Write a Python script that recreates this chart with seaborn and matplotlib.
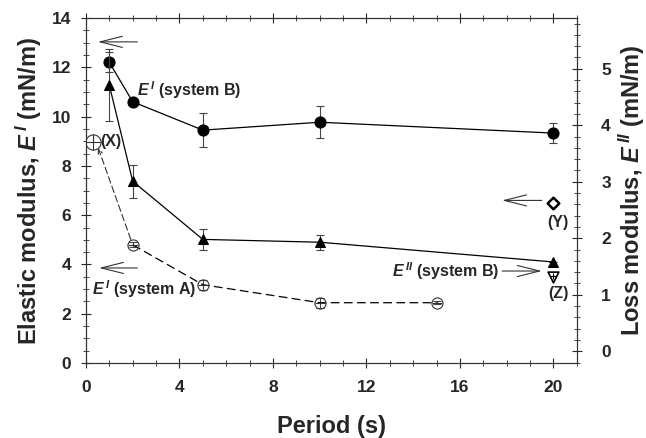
import matplotlib
matplotlib.use("Agg")
import matplotlib.pyplot as plt
import seaborn as sns
import numpy as np
import pandas as pd
from matplotlib.ticker import MultipleLocator

# ---------------- data ----------------
period_B = [1, 2, 5, 10, 20]
Ep_B = [12.2, 10.6, 9.45, 9.77, 9.33]
Ep_B_err = [0.4, 0.15, 0.68, 0.65, 0.4]

period_A = [2, 5, 10, 15]
Ep_A = [4.8, 3.18, 2.45, 2.45]
Ep_A_err = [0.1, 0.2, 0.2, 0.05]

Epp_B = [4.71, 3.01, 1.98, 1.93, 1.58]
Epp_B_err = [0.64, 0.29, 0.18, 0.13, 0.0]

point_X = (0.3, 8.97)      # left axis
point_Y = (20, 2.62)       # right axis
point_Z = (20, 1.31)       # right axis

x_ticks = [0, 4, 8, 12, 16, 20]
yl_ticks = [0, 2, 4, 6, 8, 10, 12, 14]
yr_ticks = [0, 1, 2, 3, 4, 5]

# ---------------- style ----------------
sns.set_style("ticks")
plt.rcParams['font.family'] = ['Liberation Sans', 'DejaVu Sans']
plt.rcParams['font.weight'] = 'bold'
plt.rcParams['mathtext.fontset'] = 'custom'
plt.rcParams['mathtext.it'] = 'Liberation Sans:italic:bold'
plt.rcParams['mathtext.rm'] = 'Liberation Sans:bold'
plt.rcParams['mathtext.bf'] = 'Liberation Sans:bold'

fig = plt.figure(figsize=(6.46, 4.38), dpi=100)
ax = fig.add_axes([0.133, 0.171, 0.760, 0.788])
ax2 = ax.twinx()

lw = 0.9
col = 'black'
ann_fs = 11.5

dfB = pd.DataFrame({'x': period_B, 'y': Ep_B})
dfA = pd.DataFrame({'x': period_A, 'y': Ep_A})
dfBB = pd.DataFrame({'x': period_B, 'y': Epp_B})

# E' system B
ax.errorbar(period_B, Ep_B, yerr=Ep_B_err, fmt='none', ecolor='#444444', elinewidth=0.8, capsize=3, capthick=0.8, zorder=2)
sns.lineplot(data=dfB, x='x', y='y', ax=ax, color=col, lw=lw, marker='o', markersize=8,
             markerfacecolor='black', markeredgecolor='black', estimator=None, sort=False, zorder=3)

# E' system A (dashed, crossed open circles)
ax.errorbar(period_A, Ep_A, yerr=Ep_A_err, fmt='none', ecolor='#444444', elinewidth=0.8, capsize=3, capthick=0.8, zorder=2)
sns.lineplot(data=dfA, x='x', y='y', ax=ax, color=col, lw=lw, marker='o', markersize=8,
             markerfacecolor='none', markeredgecolor='#333333', markeredgewidth=0.8,
             estimator=None, sort=False, zorder=3)
ax.lines[-1].set_dashes([7, 3.5])
sns.scatterplot(x=period_A, y=Ep_A, ax=ax, marker='_', s=55, color='#333333', linewidth=0.8, zorder=4)

# point X
sns.scatterplot(x=[point_X[0]], y=[point_X[1]], ax=ax, marker='o', s=120, facecolor='white',
                edgecolor='#333333', linewidth=0.8, zorder=4)
sns.scatterplot(x=[point_X[0]], y=[point_X[1]], ax=ax, marker='+', s=120, color='#333333', linewidth=0.8, zorder=5)
ax.text(point_X[0] + 0.3, point_X[1], "(X)", fontsize=ann_fs, fontweight='bold', va='center', ha='left')
ax.annotate("", xy=(0.51, 8.77), xytext=(period_A[0], Ep_A[0]),
            arrowprops=dict(arrowstyle='->,head_length=0.4,head_width=0.15', color='#333333', lw=0.8,
                            linestyle=(0, (6, 3)), shrinkA=4, shrinkB=0))

# E'' system B (right axis)
ax2.errorbar(period_B, Epp_B, yerr=Epp_B_err, fmt='none', ecolor='#444444', elinewidth=0.8, capsize=3, capthick=0.8, zorder=2)
sns.lineplot(data=dfBB, x='x', y='y', ax=ax2, color=col, lw=lw, marker='^', markersize=7,
             markerfacecolor='black', markeredgecolor='black', estimator=None, sort=False, zorder=3)

# points Y and Z
sns.scatterplot(x=[point_Y[0]], y=[point_Y[1]], ax=ax2, marker='D', s=35, facecolor='white',
                edgecolor='black', linewidth=1.8, zorder=4)
sns.scatterplot(x=[point_Z[0]], y=[point_Z[1]], ax=ax2, marker='v', s=60, facecolor='white',
                edgecolor='black', linewidth=1.2, zorder=4)
sns.scatterplot(x=[point_Z[0]], y=[point_Z[1] + 0.03], ax=ax2, marker='+', s=25, color='black', linewidth=0.8, zorder=5)
ax2.text(20.2, 2.28, "(Y)", fontsize=ann_fs, fontweight='bold', ha='center', va='center')
ax2.text(20.2, 1.03, "(Z)", fontsize=ann_fs, fontweight='bold', ha='center', va='center')

# arrows
arrow_kw = dict(arrowstyle='->,head_length=1.6,head_width=0.4', color='#333333', lw=0.8, shrinkA=0, shrinkB=0)
ax.annotate("", xy=(0.51, 13.03), xytext=(2.2, 13.03), arrowprops=arrow_kw)
ax.annotate("", xy=(0.56, 3.86), xytext=(2.2, 3.86), arrowprops=arrow_kw)
ax2.annotate("", xy=(17.8, 2.67), xytext=(19.5, 2.67), arrowprops=arrow_kw)
ax2.annotate("", xy=(19.5, 1.42), xytext=(17.8, 1.42), arrowprops=arrow_kw)

# text labels
ax.text(2.2, 11.08, r"$E^{\,I}$ (system B)", fontsize=ann_fs, fontweight='bold', va='center', ha='left')
ax.text(0.25, 3.0, r"$E^{\,I}$ (system A)", fontsize=ann_fs, fontweight='bold', va='center', ha='left')
ax2.text(17.7, 1.42, r"$E^{\,II}$ (system B)", fontsize=ann_fs, fontweight='bold', va='center', ha='right')

# axes
ax.set_xlim(0, 21)
ax.set_ylim(0, 14)
ax2.set_ylim(-0.21, 5.9)
ax.set_xticks(x_ticks)
ax.set_yticks(yl_ticks)
ax2.set_yticks(yr_ticks)
ax.xaxis.set_minor_locator(MultipleLocator(1))
ax.yaxis.set_minor_locator(MultipleLocator(0.5))
ax2.yaxis.set_minor_locator(MultipleLocator(0.2))

for a in (ax, ax2):
    for s in a.spines.values():
        s.set_linewidth(0.8)
        s.set_color('#333333')
ax.tick_params(axis='both', which='major', direction='inout', length=7, width=0.8, labelsize=12.5, top=True)
ax.tick_params(axis='both', which='minor', direction='inout', length=4, width=0.6, top=True)
ax.tick_params(axis='x', pad=9)
ax.tick_params(axis='y', pad=7)
ax2.tick_params(axis='y', which='major', direction='inout', length=7, width=0.8, labelsize=12.5, pad=14)
ax2.tick_params(axis='y', which='minor', direction='inout', length=4, width=0.6)
for lab in ax.get_xticklabels() + ax.get_yticklabels() + ax2.get_yticklabels():
    lab.set_fontweight('bold')

ax.set_xlabel("Period (s)", fontsize=17, fontweight='bold', labelpad=14)
ax.set_ylabel(r"Elastic modulus, $E^{\,I}$ (mN/m)", fontsize=17, fontweight='bold', labelpad=6)
ax2.set_ylabel(r"Loss modulus, $E^{\,II}$ (mN/m)", fontsize=17, fontweight='bold', labelpad=4)

fig.savefig("out.png", dpi=100)
